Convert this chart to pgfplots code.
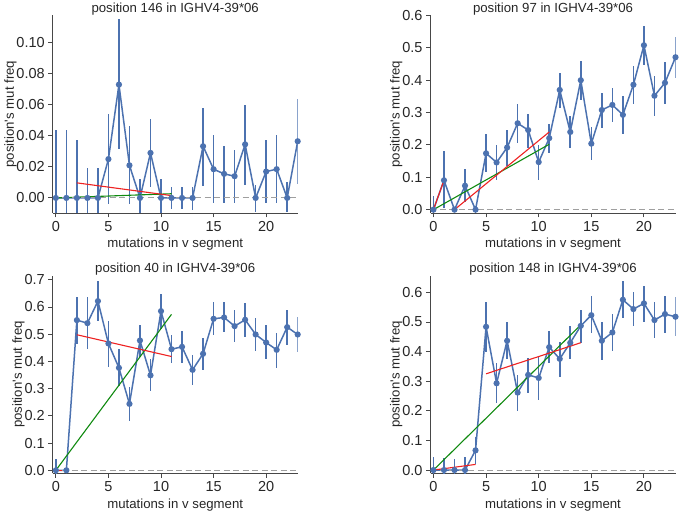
\documentclass[border=0pt]{standalone}
\usepackage{fontspec}
\setmainfont{Liberation Sans}
\usepackage{pgfplots}
\usepackage{pgfplotstable}
\pgfplotsset{compat=1.18}
\definecolor{sbblue}{HTML}{4C72B0}
\definecolor{txt}{HTML}{262626}
\definecolor{fitred}{HTML}{EE2222}
\definecolor{fitgreen}{HTML}{108A10}

\pgfplotstableread{
x y lo hi
0 0 -0.0435 0.0435
1 0 -0.0435 0.0435
2 0 -0.0375 0.0375
3 0 -0.019 0.019
4 0 -0.019 0.019
5 0.025 -0.004 0.054
6 0.073 0.0315 0.115
7 0.021 -0.004 0.0465
8 0 -0.012 0.012
9 0.029 0.007 0.051
10 0 -0.0125 0.0125
11 0 -0.007 0.007
12 0 -0.007 0.007
13 0 -0.0078 0.0072
14 0.0333 0.008 0.058
15 0.0185 -0.0035 0.0405
16 0.0155 -0.003 0.0335
17 0.014 -0.003 0.031
18 0.0345 0.0085 0.060
19 0 -0.009 0.0085
20 0.017 -0.003 0.037
21 0.0185 -0.0035 0.0405
22 0 -0.009 0.010
23 0.0365 0.009 0.0635
}\tA

\pgfplotstableread{
x y lo hi
0 0 -0.043 0.043
1 0.0907 0.005 0.181
2 0 -0.005 0.005
3 0.074 0.025 0.126
4 0 -0.01 0.01
5 0.174 0.115 0.233
6 0.146 0.093 0.200
7 0.192 0.135 0.247
8 0.267 0.205 0.328
9 0.246 0.19 0.296
10 0.147 0.093 0.200
11 0.221 0.175 0.266
12 0.370 0.315 0.422
13 0.240 0.19 0.288
14 0.400 0.34 0.46
15 0.204 0.152 0.256
16 0.308 0.253 0.362
17 0.3237 0.27 0.376
18 0.293 0.235 0.35
19 0.386 0.328 0.445
20 0.508 0.448 0.568
21 0.352 0.29 0.413
22 0.392 0.327 0.456
23 0.471 0.408 0.535
}\tB

\pgfplotstableread{
x y lo hi
0 0 -0.042 0.042
1 0 -0.01 0.01
2 0.5517 0.465 0.636
3 0.5406 0.445 0.636
4 0.6216 0.548 0.695
5 0.4659 0.38 0.55
6 0.3764 0.31 0.445
7 0.244 0.18 0.305
8 0.477 0.415 0.535
9 0.349 0.29 0.41
10 0.5848 0.52 0.648
11 0.445 0.393 0.496
12 0.4536 0.395 0.512
13 0.369 0.312 0.425
14 0.428 0.37 0.486
15 0.5566 0.496 0.617
16 0.5615 0.508 0.618
17 0.5296 0.47 0.59
18 0.553 0.49 0.615
19 0.499 0.44 0.56
20 0.4695 0.408 0.535
21 0.4426 0.377 0.505
22 0.526 0.462 0.588
23 0.499 0.433 0.565
}\tC

\pgfplotstableread{
x y lo hi
0 0 -0.043 0.043
1 0 -0.04 0.04
2 0 -0.037 0.037
3 0 -0.043 0.043
4 0.0665 0.02 0.11
5 0.4838 0.40 0.567
6 0.293 0.225 0.36
7 0.4365 0.375 0.50
8 0.2616 0.198 0.322
9 0.3214 0.26 0.38
10 0.311 0.235 0.385
11 0.415 0.36 0.47
12 0.3755 0.315 0.433
13 0.4297 0.375 0.486
14 0.487 0.43 0.542
15 0.523 0.462 0.587
16 0.4365 0.372 0.50
17 0.4646 0.402 0.527
18 0.575 0.515 0.637
19 0.5436 0.487 0.60
20 0.5628 0.50 0.62
21 0.5064 0.447 0.568
22 0.5267 0.463 0.587
23 0.5177 0.452 0.585
}\tD

\pgfplotsset{
  panel/.style={
    scale only axis, width=245pt, height=197.5pt,
    anchor=south west,
    xmin=-0.3, xmax=23,
    axis x line*=bottom, axis y line*=left,
    axis line style={-, draw=txt!85, line width=0.9pt},
    tick align=outside, major tick length=4.5pt,
    tick style={draw=txt!85, line width=0.9pt},
    xtick={0,5,10,15,20},
    /pgf/number format/assume math mode=true,
    ticklabel style={font=\fontsize{14.5}{16}\selectfont, text=txt},
    xlabel={mutations in v segment},
    ylabel={position\textquotesingle s mut freq},
    label style={font=\fontsize{13.2}{15}\selectfont, text=txt},
    ylabel style={yshift=-7pt},
    every axis title shift=0pt,
    title style={font=\fontsize{13.2}{15}\selectfont, text=txt, at={(0.5,1)}, anchor=base, yshift=3pt},
    yticklabel style={/pgf/number format/fixed, /pgf/number format/fixed zerofill},
  },
  dat/.style={sbblue, line width=1.5pt, mark=*, mark size=2.3pt, mark options={solid, fill=sbblue, draw=sbblue},
    error bars/.cd, y dir=both, y explicit, error mark=none,
    error bar style={sbblue, line width=1.6pt}},
  zl/.style={gray!75, dashed, line width=1pt, dash pattern=on 6pt off 3.5pt},
  fr/.style={fitred, line width=1.1pt},
  fg/.style={fitgreen, line width=1.1pt},
}

\newcommand{\dataplot}[1]{\addplot[dat] table[x=x, y=y, y error plus expr=\thisrow{hi}-\thisrow{y}, y error minus expr=\thisrow{y}-\thisrow{lo}] {#1};}

\begin{document}
\begin{tikzpicture}
\useasboundingbox (0,0) rectangle (680pt,513pt);

\begin{axis}[panel, at={(52.7pt,300pt)}, ymin=-0.0097, ymax=0.1175,
  ytick={0,0.02,0.04,0.06,0.08,0.10},
  yticklabel style={/pgf/number format/precision=2},
  title={position 146 in IGHV4-39*06}]
\dataplot{\tA}
\addplot[fg] coordinates {(0,0) (11,0.0027)};
\addplot[fr] coordinates {(2,0.0097) (11,0.0015)};
\addplot[zl] coordinates {(-0.3,0) (23,0)};
\end{axis}

\begin{axis}[panel, at={(430.5pt,300pt)}, xmin=-0.28, ymin=-0.0103, ymax=0.6,
  ytick={0,0.1,0.2,0.3,0.4,0.5,0.6},
  yticklabel style={/pgf/number format/precision=1},
  title={position 97 in IGHV4-39*06}]
\dataplot{\tB}
\addplot[fg] coordinates {(0,0) (11,0.202)};
\addplot[fr] coordinates {(0,0) (1,0.0907)};
\addplot[fr] coordinates {(2,0) (11,0.24)};
\addplot[zl] coordinates {(-0.3,0) (23,0)};
\end{axis}

\begin{axis}[panel, at={(52.7pt,39.7pt)}, ymin=-0.011, ymax=0.7146,
  ytick={0,0.1,0.2,0.3,0.4,0.5,0.6,0.7},
  yticklabel style={/pgf/number format/precision=1},
  title={position 40 in IGHV4-39*06}]
\dataplot{\tC}
\addplot[fg] coordinates {(0,0) (11,0.573)};
\addplot[fr] coordinates {(0,0) (1,0)};
\addplot[fr] coordinates {(2,0.498) (11,0.418)};
\addplot[zl] coordinates {(-0.3,0) (23,0)};
\end{axis}

\begin{axis}[panel, at={(430.5pt,39.7pt)}, xmin=-0.28, ymin=-0.011, ymax=0.656,
  ytick={0,0.1,0.2,0.3,0.4,0.5,0.6},
  yticklabel style={/pgf/number format/precision=1},
  title={position 148 in IGHV4-39*06}]
\dataplot{\tD}
\addplot[fg] coordinates {(0,0) (14,0.49)};
\addplot[fr] coordinates {(0,0) (4,0.019)};
\addplot[fr] coordinates {(5,0.325) (14,0.43)};
\addplot[zl] coordinates {(-0.3,0) (23,0)};
\end{axis}
\end{tikzpicture}
\end{document}
